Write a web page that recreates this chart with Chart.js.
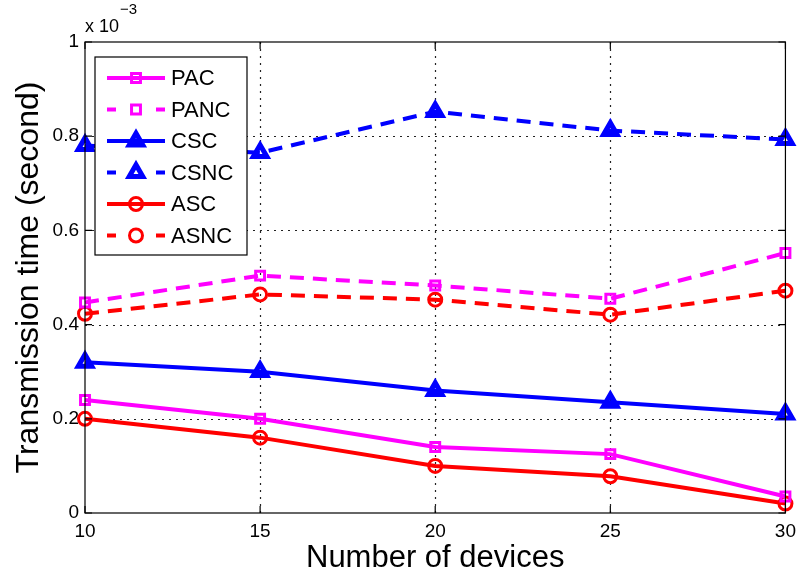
<!DOCTYPE html>
<html>
<head>
<meta charset="utf-8">
<script src="https://cdn.jsdelivr.net/npm/chart.js@4/dist/chart.umd.min.js"></script>
<style>
  html, body { margin: 0; padding: 0; background: #fff; }
  #wrap { width: 803px; height: 581px; }
</style>
</head>
<body>
<div id="wrap"><canvas id="time-chart" width="803" height="581"></canvas></div>
<script>
// transmission time in units of 1e-3 s
const devices = [10, 15, 20, 25, 30];
const pac  = [0.240, 0.200, 0.140, 0.125, 0.035];
const panc = [0.447, 0.504, 0.483, 0.455, 0.552];
const csc  = [0.320, 0.300, 0.260, 0.235, 0.210];
const csnc = [0.780, 0.765, 0.852, 0.812, 0.793];
const asc  = [0.200, 0.160, 0.100, 0.078, 0.020];
const asnc = [0.423, 0.464, 0.453, 0.421, 0.472];
const yTicks = [0, 0.2, 0.4, 0.6, 0.8, 1];

const FONT = "'Liberation Sans', Arial, Helvetica, sans-serif";
const MAGENTA = "#ff00ff";
const BLUE = "#0000ff";
const RED = "#ff0000";
const DASH = [14, 9];
const NONE = "rgba(0,0,0,0)";

function points(values) {
  return devices.map((d, i) => ({ x: d, y: values[i] }));
}

function series(label, values, color, style, radius, width, dashed) {
  return {
    label,
    data: points(values),
    borderColor: color,
    backgroundColor: NONE,
    borderWidth: 4,
    borderDash: dashed ? DASH : [],
    pointStyle: style,
    pointRadius: radius,
    pointBorderWidth: width,
    pointBorderColor: color,
    pointBackgroundColor: NONE,
    tension: 0,
    clip: false
  };
}

// dotted grid under the lines
const dottedGrid = {
  id: "dottedGrid",
  beforeDatasetsDraw(chart) {
    const { ctx, chartArea: a, scales } = chart;
    ctx.save();
    ctx.strokeStyle = "#222";
    ctx.lineWidth = 1.2;
    ctx.setLineDash([2, 5]);
    ctx.beginPath();
    devices.slice(1, -1).forEach(d => {
      const x = Math.round(scales.x.getPixelForValue(d)) + 0.5;
      ctx.moveTo(x, a.bottom); ctx.lineTo(x, a.top);
    });
    yTicks.slice(1, -1).forEach(v => {
      const y = Math.round(scales.y.getPixelForValue(v)) + 0.5;
      ctx.moveTo(a.left, y); ctx.lineTo(a.right, y);
    });
    ctx.stroke();
    ctx.restore();
  }
};

// MATLAB-style frame, inward ticks, exponent label and boxed legend
const matlabFrame = {
  id: "matlabFrame",
  afterDraw(chart) {
    const { ctx, chartArea: a, scales } = chart;
    ctx.save();
    ctx.strokeStyle = "#000";
    ctx.lineWidth = 1.2;
    ctx.setLineDash([]);
    ctx.strokeRect(a.left, a.top, a.right - a.left, a.bottom - a.top);

    ctx.beginPath();
    devices.forEach(d => {
      const x = scales.x.getPixelForValue(d);
      ctx.moveTo(x, a.bottom); ctx.lineTo(x, a.bottom - 7);
      ctx.moveTo(x, a.top); ctx.lineTo(x, a.top + 7);
    });
    yTicks.forEach(v => {
      const y = scales.y.getPixelForValue(v);
      ctx.moveTo(a.left, y); ctx.lineTo(a.left + 7, y);
      ctx.moveTo(a.right, y); ctx.lineTo(a.right - 7, y);
    });
    ctx.stroke();

    // exponent
    ctx.fillStyle = "#000";
    ctx.textBaseline = "alphabetic";
    ctx.font = "18px " + FONT;
    ctx.fillText("x 10", a.left, a.top - 10);
    ctx.font = "15px " + FONT;
    ctx.fillText("\u22123", a.left + 35, a.top - 28);

    // legend
    const bx = a.left + 10, by = a.top + 15, bw = 152, bh = 198;
    ctx.fillStyle = "#fff";
    ctx.fillRect(bx, by, bw, bh);
    ctx.lineWidth = 1.2;
    ctx.strokeRect(bx, by, bw, bh);
    chart.data.datasets.forEach((ds, i) => {
      const y = by + 21 + i * 31.5;
      const x0 = bx + 12, x1 = bx + 70, xm = (x0 + x1) / 2;
      ctx.strokeStyle = ds.borderColor;
      ctx.lineWidth = 4;
      ctx.beginPath();
      if (ds.borderDash.length) {
        ctx.moveTo(x0, y); ctx.lineTo(x0 + 9, y);
        ctx.moveTo(x1 - 9, y); ctx.lineTo(x1, y);
      } else {
        ctx.moveTo(x0, y); ctx.lineTo(x1, y);
      }
      ctx.stroke();
      ctx.lineWidth = ds.pointBorderWidth;
      ctx.fillStyle = NONE;
      Chart.helpers.drawPoint(ctx, {
        pointStyle: ds.pointStyle,
        radius: ds.pointRadius,
        rotation: 0,
        borderWidth: ds.pointBorderWidth
      }, xm, y);
      ctx.fillStyle = "#000";
      ctx.font = "22px " + FONT;
      ctx.textBaseline = "middle";
      ctx.fillText(ds.label, bx + 76, y + 1);
    });
    ctx.restore();
  }
};

const noGrid = { display: false, drawTicks: false };

new Chart(document.getElementById("time-chart").getContext("2d"), {
  type: "line",
  data: {
    datasets: [
      series("PAC", pac, MAGENTA, "rect", 6.3, 3, false),
      series("PANC", panc, MAGENTA, "rect", 6.3, 3, true),
      series("CSC", csc, BLUE, "triangle", 7.8, 5, false),
      series("CSNC", csnc, BLUE, "triangle", 7.8, 5, true),
      series("ASC", asc, RED, "circle", 6.5, 3, false),
      series("ASNC", asnc, RED, "circle", 6.5, 3, true)
    ]
  },
  options: {
    responsive: false,
    animation: false,
    layout: { padding: { left: 0, right: 14, top: 42, bottom: 0 } },
    plugins: {
      legend: { display: false },
      tooltip: { enabled: false }
    },
    scales: {
      x: {
        type: "linear",
        min: 10,
        max: 30,
        border: { display: false },
        grid: noGrid,
        afterBuildTicks: scale => {
          scale.ticks = devices.map(v => ({ value: v }));
        },
        afterFit: scale => { scale.height = 68; },
        ticks: {
          color: "#000",
          padding: 7,
          font: { family: FONT, size: 19 }
        },
        title: {
          display: true,
          text: "Number of devices",
          color: "#000",
          padding: { top: 0 },
          font: { family: FONT, size: 31 }
        }
      },
      y: {
        min: 0,
        max: 1,
        border: { display: false },
        grid: noGrid,
        afterBuildTicks: scale => {
          scale.ticks = yTicks.map(v => ({ value: v }));
        },
        afterFit: scale => { scale.width = 85; },
        ticks: {
          color: "#000",
          padding: 6,
          font: { family: FONT, size: 19 },
          callback: v => String(v)
        },
        title: {
          display: true,
          text: "Transmission time (second)",
          color: "#000",
          padding: { top: 10, bottom: 0 },
          font: { family: FONT, size: 32 }
        }
      }
    }
  },
  plugins: [dottedGrid, matlabFrame]
});
</script>
</body>
</html>
